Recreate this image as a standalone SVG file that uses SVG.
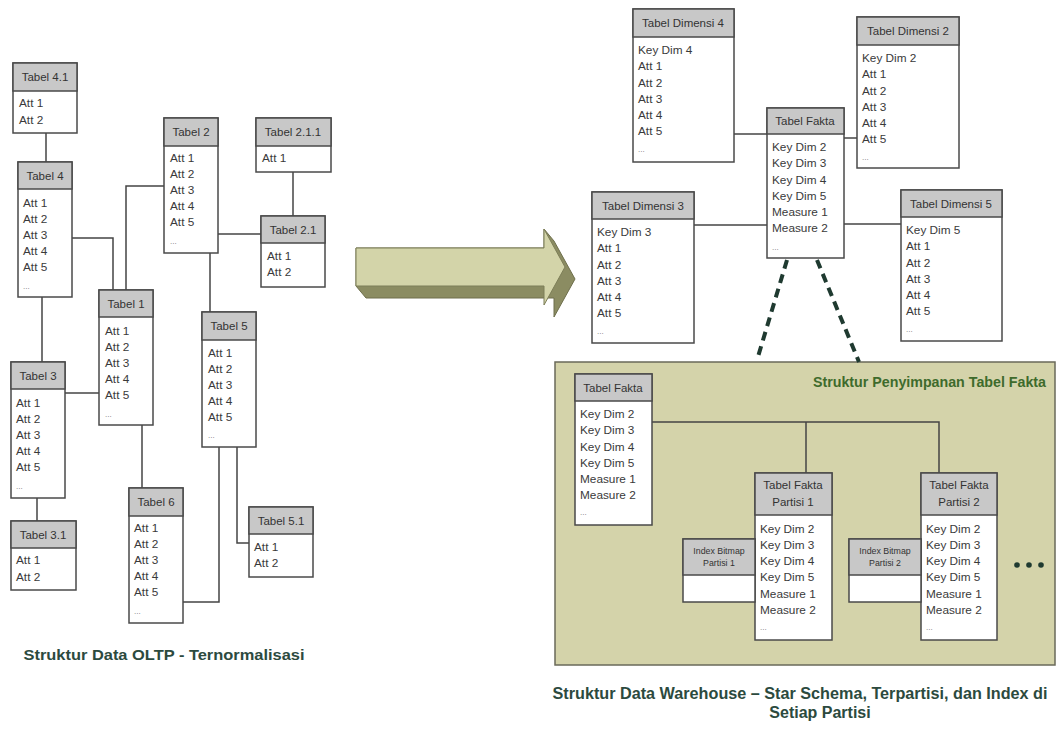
<svg xmlns="http://www.w3.org/2000/svg" width="1062" height="733" viewBox="0 0 1062 733">
<style>
.b{fill:#fff;stroke:#4a4a4a;stroke-width:1.5}
.hd{fill:#c8c8c8;stroke:#4a4a4a;stroke-width:1.5}
.t{font-family:"Liberation Sans",Arial,sans-serif;font-size:11.8px;fill:#3a3a3a}
.h{font-family:"Liberation Sans",Arial,sans-serif;font-size:11.5px;fill:#333;text-anchor:middle}
.s{font-family:"Liberation Sans",Arial,sans-serif;font-size:8.8px;fill:#333;text-anchor:middle}
.d{font-family:"Liberation Sans",Arial,sans-serif;font-size:8px;fill:#777}
.c{fill:none;stroke:#444;stroke-width:1.5}
.dash{fill:none;stroke:#1f3a30;stroke-width:4;stroke-dasharray:9 6}
.cap{font-family:"Liberation Sans",Arial,sans-serif;font-weight:bold;fill:#2c4a3e}
</style>
<rect width="1062" height="733" fill="#fff"/>

<g id="storage">
<rect x="555" y="362" width="500" height="303" fill="#d4d3aa" stroke="#6a6a5a" stroke-width="1.5"/>
<text x="1046" y="387" class="cap" font-size="14" style="fill:#3e6b2c" text-anchor="end" textLength="233" lengthAdjust="spacingAndGlyphs">Struktur Penyimpanan Tabel Fakta</text>
</g>

<g id="connectors">
<path class="c" d="M46 133V162"/>
<path class="c" d="M293 172V216"/>
<path class="c" d="M218 234H261"/>
<path class="c" d="M72 238H113V290"/>
<path class="c" d="M164 186H126V290"/>
<path class="c" d="M210 253V312"/>
<path class="c" d="M42 297V362"/>
<path class="c" d="M65 393H99"/>
<path class="c" d="M37 498V521"/>
<path class="c" d="M142 425V488"/>
<path class="c" d="M183 602H219V447"/>
<path class="c" d="M237 447V543H249"/>
<path class="c" d="M734 134H767"/>
<path class="c" d="M844 138H857"/>
<path class="c" d="M694 225H767"/>
<path class="c" d="M844 224H901"/>
<path class="c" d="M652 422H939V473"/>
<path class="c" d="M806 422V473"/>
<path class="dash" d="M787 260L757 360"/>
<path class="dash" d="M817 260L859 362"/>
</g>

<g id="arrow">
<polygon points="356,248 544,248 544,229 554,241 575,279 554,317 554,298 366,298 356,286" fill="#8b8c62" stroke="#6e6f4c" stroke-width="1"/>
<polygon points="356,248 544,248 544,229 565,267 544,305 544,286 356,286" fill="#d3d4a9" stroke="#7d7e58" stroke-width="1"/>
</g>

<g id="t41">
<rect class="b" x="13" y="63" width="64" height="70"/><rect class="hd" x="13" y="63" width="64" height="28"/>
<text class="h" x="45" y="81">Tabel 4.1</text>
<text class="t" x="19" y="107">Att 1</text><text class="t" x="19" y="124">Att 2</text>
</g>
<g id="t4">
<rect class="b" x="18" y="162" width="54" height="135"/><rect class="hd" x="18" y="162" width="54" height="27"/>
<text class="h" x="45" y="180">Tabel 4</text>
<text class="t" x="23" y="207">Att 1</text><text class="t" x="23" y="223">Att 2</text><text class="t" x="23" y="239">Att 3</text><text class="t" x="23" y="255">Att 4</text><text class="t" x="23" y="271">Att 5</text><text class="d" x="23" y="289">...</text>
</g>
<g id="t2">
<rect class="b" x="164" y="118" width="54" height="135"/><rect class="hd" x="164" y="118" width="54" height="28"/>
<text class="h" x="191" y="136">Tabel 2</text>
<text class="t" x="170" y="162">Att 1</text><text class="t" x="170" y="178">Att 2</text><text class="t" x="170" y="194">Att 3</text><text class="t" x="170" y="210">Att 4</text><text class="t" x="170" y="226">Att 5</text><text class="d" x="170" y="244">...</text>
</g>
<g id="t211">
<rect class="b" x="256" y="118" width="75" height="54"/><rect class="hd" x="256" y="118" width="75" height="28"/>
<text class="h" x="293" y="136">Tabel 2.1.1</text>
<text class="t" x="262" y="162">Att 1</text>
</g>
<g id="t21">
<rect class="b" x="261" y="216" width="64" height="71"/><rect class="hd" x="261" y="216" width="64" height="27"/>
<text class="h" x="293" y="234">Tabel 2.1</text>
<text class="t" x="267" y="260">Att 1</text><text class="t" x="267" y="276">Att 2</text>
</g>
<g id="t1">
<rect class="b" x="99" y="290" width="54" height="135"/><rect class="hd" x="99" y="290" width="54" height="27"/>
<text class="h" x="126" y="308">Tabel 1</text>
<text class="t" x="105" y="335">Att 1</text><text class="t" x="105" y="351">Att 2</text><text class="t" x="105" y="367">Att 3</text><text class="t" x="105" y="383">Att 4</text><text class="t" x="105" y="399">Att 5</text><text class="d" x="105" y="417">...</text>
</g>
<g id="t5">
<rect class="b" x="202" y="312" width="54" height="135"/><rect class="hd" x="202" y="312" width="54" height="28"/>
<text class="h" x="229" y="330">Tabel 5</text>
<text class="t" x="208" y="357">Att 1</text><text class="t" x="208" y="373">Att 2</text><text class="t" x="208" y="389">Att 3</text><text class="t" x="208" y="405">Att 4</text><text class="t" x="208" y="421">Att 5</text><text class="d" x="208" y="438">...</text>
</g>
<g id="t3">
<rect class="b" x="11" y="362" width="54" height="136"/><rect class="hd" x="11" y="362" width="54" height="27"/>
<text class="h" x="38" y="380">Tabel 3</text>
<text class="t" x="16" y="407">Att 1</text><text class="t" x="16" y="423">Att 2</text><text class="t" x="16" y="439">Att 3</text><text class="t" x="16" y="455">Att 4</text><text class="t" x="16" y="471">Att 5</text><text class="d" x="16" y="489">...</text>
</g>
<g id="t31">
<rect class="b" x="11" y="521" width="65" height="69"/><rect class="hd" x="11" y="521" width="65" height="27"/>
<text class="h" x="43" y="539">Tabel 3.1</text>
<text class="t" x="16" y="564">Att 1</text><text class="t" x="16" y="581">Att 2</text>
</g>
<g id="t6">
<rect class="b" x="129" y="488" width="54" height="135"/><rect class="hd" x="129" y="488" width="54" height="28"/>
<text class="h" x="156" y="506">Tabel 6</text>
<text class="t" x="134" y="532">Att 1</text><text class="t" x="134" y="548">Att 2</text><text class="t" x="134" y="564">Att 3</text><text class="t" x="134" y="580">Att 4</text><text class="t" x="134" y="596">Att 5</text><text class="d" x="134" y="614">...</text>
</g>
<g id="t51">
<rect class="b" x="249" y="507" width="64" height="70"/><rect class="hd" x="249" y="507" width="64" height="27"/>
<text class="h" x="281" y="525">Tabel 5.1</text>
<text class="t" x="254" y="551">Att 1</text><text class="t" x="254" y="567">Att 2</text>
</g>

<text class="cap" x="164" y="660" font-size="15" text-anchor="middle" textLength="281" lengthAdjust="spacingAndGlyphs">Struktur Data OLTP - Ternormalisasi</text>

<g id="dim4">
<rect class="b" x="633" y="9" width="101" height="153"/><rect class="hd" x="633" y="9" width="101" height="28"/>
<text class="h" x="683" y="27">Tabel Dimensi 4</text>
<text class="t" x="638" y="54">Key Dim 4</text><text class="t" x="638" y="70">Att 1</text><text class="t" x="638" y="87">Att 2</text><text class="t" x="638" y="103">Att 3</text><text class="t" x="638" y="119">Att 4</text><text class="t" x="638" y="135">Att 5</text><text class="d" x="638" y="152">...</text>
</g>
<g id="dim2">
<rect class="b" x="857" y="17" width="102" height="151"/><rect class="hd" x="857" y="17" width="102" height="28"/>
<text class="h" x="908" y="35">Tabel Dimensi 2</text>
<text class="t" x="862" y="62">Key Dim 2</text><text class="t" x="862" y="78">Att 1</text><text class="t" x="862" y="95">Att 2</text><text class="t" x="862" y="111">Att 3</text><text class="t" x="862" y="127">Att 4</text><text class="t" x="862" y="143">Att 5</text><text class="d" x="862" y="160">...</text>
</g>
<g id="fakta">
<rect class="b" x="767" y="108" width="77" height="150"/><rect class="hd" x="767" y="108" width="77" height="26"/>
<text class="h" x="805" y="125">Tabel Fakta</text>
<text class="t" x="772" y="151">Key Dim 2</text><text class="t" x="772" y="167">Key Dim 3</text><text class="t" x="772" y="184">Key Dim 4</text><text class="t" x="772" y="200">Key Dim 5</text><text class="t" x="772" y="216">Measure 1</text><text class="t" x="772" y="232">Measure 2</text><text class="d" x="772" y="250">...</text>
</g>
<g id="dim3">
<rect class="b" x="592" y="192" width="102" height="151"/><rect class="hd" x="592" y="192" width="102" height="27"/>
<text class="h" x="643" y="210">Tabel Dimensi 3</text>
<text class="t" x="597" y="236">Key Dim 3</text><text class="t" x="597" y="252">Att 1</text><text class="t" x="597" y="269">Att 2</text><text class="t" x="597" y="285">Att 3</text><text class="t" x="597" y="301">Att 4</text><text class="t" x="597" y="317">Att 5</text><text class="d" x="597" y="334">...</text>
</g>
<g id="dim5">
<rect class="b" x="901" y="190" width="101" height="151"/><rect class="hd" x="901" y="190" width="101" height="27"/>
<text class="h" x="951" y="208">Tabel Dimensi 5</text>
<text class="t" x="906" y="234">Key Dim 5</text><text class="t" x="906" y="250">Att 1</text><text class="t" x="906" y="267">Att 2</text><text class="t" x="906" y="283">Att 3</text><text class="t" x="906" y="299">Att 4</text><text class="t" x="906" y="315">Att 5</text><text class="d" x="906" y="332">...</text>
</g>

<g id="fakta2">
<rect class="b" x="575" y="374" width="77" height="151"/><rect class="hd" x="575" y="374" width="77" height="27"/>
<text class="h" x="613" y="392">Tabel Fakta</text>
<text class="t" x="580" y="418">Key Dim 2</text><text class="t" x="580" y="434">Key Dim 3</text><text class="t" x="580" y="451">Key Dim 4</text><text class="t" x="580" y="467">Key Dim 5</text><text class="t" x="580" y="483">Measure 1</text><text class="t" x="580" y="499">Measure 2</text><text class="d" x="580" y="515">...</text>
</g>
<g id="p1">
<rect class="b" x="755" y="473" width="77" height="167"/><rect class="hd" x="755" y="473" width="77" height="42"/>
<text class="h" x="793" y="489">Tabel Fakta</text><text class="h" x="793" y="506">Partisi 1</text>
<text class="t" x="760" y="533">Key Dim 2</text><text class="t" x="760" y="549">Key Dim 3</text><text class="t" x="760" y="565">Key Dim 4</text><text class="t" x="760" y="581">Key Dim 5</text><text class="t" x="760" y="598">Measure 1</text><text class="t" x="760" y="614">Measure 2</text><text class="d" x="760" y="630">...</text>
</g>
<g id="p2">
<rect class="b" x="921" y="473" width="76" height="167"/><rect class="hd" x="921" y="473" width="76" height="42"/>
<text class="h" x="959" y="489">Tabel Fakta</text><text class="h" x="959" y="506">Partisi 2</text>
<text class="t" x="926" y="533">Key Dim 2</text><text class="t" x="926" y="549">Key Dim 3</text><text class="t" x="926" y="565">Key Dim 4</text><text class="t" x="926" y="581">Key Dim 5</text><text class="t" x="926" y="598">Measure 1</text><text class="t" x="926" y="614">Measure 2</text><text class="d" x="926" y="630">...</text>
</g>
<g id="ib1">
<rect class="b" x="683" y="539" width="72" height="63"/><rect class="hd" x="683" y="539" width="72" height="36"/>
<text class="s" x="719" y="554">Index Bitmap</text><text class="s" x="719" y="566">Partisi 1</text>
</g>
<g id="ib2">
<rect class="b" x="849" y="539" width="72" height="63"/><rect class="hd" x="849" y="539" width="72" height="36"/>
<text class="s" x="885" y="554">Index Bitmap</text><text class="s" x="885" y="566">Partisi 2</text>
</g>
<g id="more" fill="#1f3a30">
<circle cx="1017" cy="565" r="2.8"/><circle cx="1029" cy="565" r="2.8"/><circle cx="1041" cy="565" r="2.8"/>
</g>

<text class="cap" x="800" y="699" font-size="16" text-anchor="middle" textLength="495" lengthAdjust="spacingAndGlyphs">Struktur Data Warehouse – Star Schema, Terpartisi, dan Index di</text>
<text class="cap" x="820" y="718" font-size="16" text-anchor="middle">Setiap Partisi</text>
</svg>
